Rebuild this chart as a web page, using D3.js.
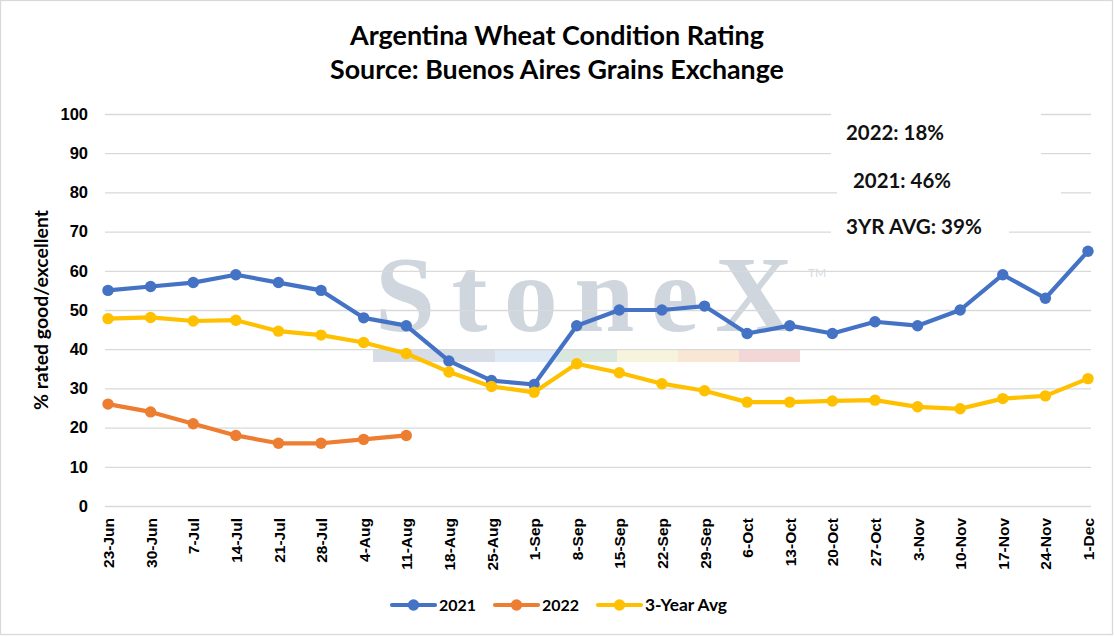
<!DOCTYPE html>
<html>
<head>
<meta charset="utf-8">
<script src="https://cdn.jsdelivr.net/npm/d3@7"></script>
<style>
  body { margin: 0; background: #fff; }
  svg { display: block; font-family: Lato, "Open Sans", sans-serif; }
  .tick text { font-weight: bold; fill: #000; }
</style>
</head>
<body>
<div id="vis"></div>
<script>
var width = 1115;
var height = 637;

// data
var categories = ['23-Jun', '30-Jun', '7-Jul', '14-Jul', '21-Jul', '28-Jul', '4-Aug', '11-Aug',
  '18-Aug', '25-Aug', '1-Sep', '8-Sep', '15-Sep', '22-Sep', '29-Sep', '6-Oct', '13-Oct',
  '20-Oct', '27-Oct', '3-Nov', '10-Nov', '17-Nov', '24-Nov', '1-Dec'];
var values2021 = [55, 56, 57, 59, 57, 55, 48, 46, 37, 32, 31, 46, 50, 50, 51, 44, 46, 44, 47, 46, 50, 59, 53, 65];
var values2022 = [26, 24, 21, 18, 16, 16, 17, 18];
var valuesAvg = [47.8, 48.1, 47.2, 47.4, 44.6, 43.6, 41.7, 38.9, 34.2, 30.5, 29, 36.3, 34, 31.2, 29.4,
  26.5, 26.5, 26.8, 27, 25.3, 24.8, 27.4, 28.1, 32.5];
var yTicks = [0, 10, 20, 30, 40, 50, 60, 70, 80, 90, 100];
var seriesNames = ['2021', '2022', '3-Year Avg'];
var noteTexts = ['2022: 18%', '2021: 46%', '3YR AVG: 39%'];

var colors = { '2021': '#4472C4', '2022': '#ED7D31', '3-Year Avg': '#FFC000' };

var series = [
  { name: '2021', values: values2021 },
  { name: '2022', values: values2022 },
  { name: '3-Year Avg', values: valuesAvg }
];

var plot = { left: 105, right: 1091, top: 114, bottom: 506 };

var x = d3.scalePoint().domain(categories).range([108, 1088]);
var y = d3.scaleLinear().domain([0, 100]).range([plot.bottom, plot.top]);

var svg = d3.select('#vis').append('svg')
  .attr('width', width)
  .attr('height', height);

// chart frame
svg.append('rect')
  .attr('x', 0.5).attr('y', 0.5)
  .attr('width', width - 3).attr('height', height - 3)
  .attr('fill', '#fff').attr('stroke', '#d9d9d9').attr('stroke-width', 1.3);

// shrink a text node until it fits the width seen in the picture
function fitText(sel, target) {
  var node = sel.node();
  var size = parseFloat(sel.attr('font-size'));
  var len = node.getComputedTextLength();
  if (len > 0) sel.attr('font-size', (size * target / len).toFixed(2));
}

// title
var title = svg.append('g').attr('text-anchor', 'middle').attr('font-weight', 'bold');
fitText(title.append('text').attr('x', 557).attr('y', 45).attr('font-size', 24)
  .text('Argentina Wheat Condition Rating'), 414);
fitText(title.append('text').attr('x', 557).attr('y', 79).attr('font-size', 24)
  .text('Source: Buenos Aires Grains Exchange'), 454);

// watermark
var wm = svg.append('g');
var wmBars = [
  { x0: 373, x1: 495, c: '#d6dde6' },
  { x0: 495, x1: 557, c: '#dde9f4' },
  { x0: 557, x1: 617, c: '#d9e7de' },
  { x0: 617, x1: 678, c: '#f7f4de' },
  { x0: 678, x1: 739, c: '#f9e6d4' },
  { x0: 739, x1: 800, c: '#f3d6d6' }
];
wm.selectAll('rect').data(wmBars).enter().append('rect')
  .attr('x', d => d.x0).attr('y', 349)
  .attr('width', d => d.x1 - d.x0).attr('height', 13)
  .attr('fill', d => d.c);
wm.append('text')
  .attr('x', 375).attr('y', 331)
  .attr('font-family', '"Liberation Serif", "DejaVu Serif", serif')
  .attr('font-weight', 'bold')
  .attr('font-size', 108)
  .attr('textLength', 418)
  .attr('lengthAdjust', 'spacing')
  .attr('fill', '#cfd6de')
  .text('StoneX');
wm.append('text')
  .attr('x', 808).attr('y', 277)
  .attr('font-size', 12)
  .attr('fill', '#d5dbe2')
  .text('TM');

// y gridlines + labels
var yAxis = d3.axisLeft(y)
  .tickValues(yTicks)
  .tickSizeInner(-(plot.right - plot.left))
  .tickSizeOuter(0)
  .tickPadding(17);

var yg = svg.append('g')
  .attr('transform', 'translate(' + plot.left + ',0)')
  .call(yAxis);
yg.select('.domain').remove();
yg.selectAll('.tick line').attr('stroke', '#d9d9d9').attr('stroke-width', 1.3);
yg.selectAll('.tick text').attr('font-size', 16.5);

// x axis labels
var xAxis = d3.axisBottom(x).tickSize(0);
var xg = svg.append('g')
  .attr('transform', 'translate(0,' + plot.bottom + ')')
  .call(xAxis);
xg.select('.domain').remove();
xg.selectAll('.tick text')
  .attr('font-size', 15.5)
  .attr('transform', 'rotate(-90)')
  .attr('text-anchor', 'end')
  .attr('x', -12)
  .attr('y', 0)
  .attr('dy', '0.36em');

// y axis title
fitText(svg.append('text')
  .attr('transform', 'translate(48,' + ((plot.top + plot.bottom) / 2) + ') rotate(-90)')
  .attr('text-anchor', 'middle')
  .attr('font-size', 18)
  .attr('font-weight', 'bold')
  .text('% rated good/excellent'), 200);

// note boxes (white boxes hide the gridlines behind them)
var notes = [
  { text: noteTexts[0], bx: 831, by: 106, bw: 210, bh: 52, tx: 846, ty: 140, tw: 98 },
  { text: noteTexts[1], bx: 837, by: 165, bw: 224, bh: 36, tx: 853, ty: 188, tw: 98 },
  { text: noteTexts[2], bx: 831, by: 210, bw: 178, bh: 34, tx: 846, ty: 234, tw: 136 }
];
notes.forEach(function (n) {
  svg.append('rect')
    .attr('x', n.bx).attr('y', n.by)
    .attr('width', n.bw).attr('height', n.bh)
    .attr('fill', '#fff');
});
notes.forEach(function (n) {
  var t = svg.append('text')
    .attr('x', n.tx).attr('y', n.ty)
    .attr('font-size', 19)
    .attr('font-weight', 'bold')
    .attr('fill', '#111')
    .text(n.text);
  fitText(t, n.tw);
});

// lines
var line = d3.line()
  .x((d, i) => x(categories[i]))
  .y(d => y(d));

var lines = svg.append('g');
series.forEach(function (s) {
  var g = lines.append('g');
  g.append('path')
    .datum(s.values)
    .attr('d', line)
    .attr('fill', 'none')
    .attr('stroke', colors[s.name])
    .attr('stroke-width', 4.2)
    .attr('stroke-linejoin', 'round')
    .attr('stroke-linecap', 'round');
  g.selectAll('circle')
    .data(s.values)
    .enter().append('circle')
    .attr('cx', (d, i) => x(categories[i]))
    .attr('cy', d => y(d))
    .attr('r', 5.7)
    .attr('fill', colors[s.name]);
});

// legend
var legendItems = [
  { name: seriesNames[0], x: 392, w: 37 },
  { name: seriesNames[1], x: 495, w: 37 },
  { name: seriesNames[2], x: 598, w: 82 }
];
var legend = svg.append('g');
legendItems.forEach(function (it) {
  legend.append('line')
    .attr('x1', it.x).attr('x2', it.x + 43)
    .attr('y1', 605).attr('y2', 605)
    .attr('stroke', colors[it.name])
    .attr('stroke-width', 4.2)
    .attr('stroke-linecap', 'round');
  legend.append('circle')
    .attr('cx', it.x + 21.5).attr('cy', 605)
    .attr('r', 5.7)
    .attr('fill', colors[it.name]);
  fitText(legend.append('text')
    .attr('x', it.x + 47).attr('y', 611)
    .attr('font-size', 16.5)
    .attr('font-weight', 'bold')
    .text(it.name), it.w);
});
</script>
</body>
</html>
